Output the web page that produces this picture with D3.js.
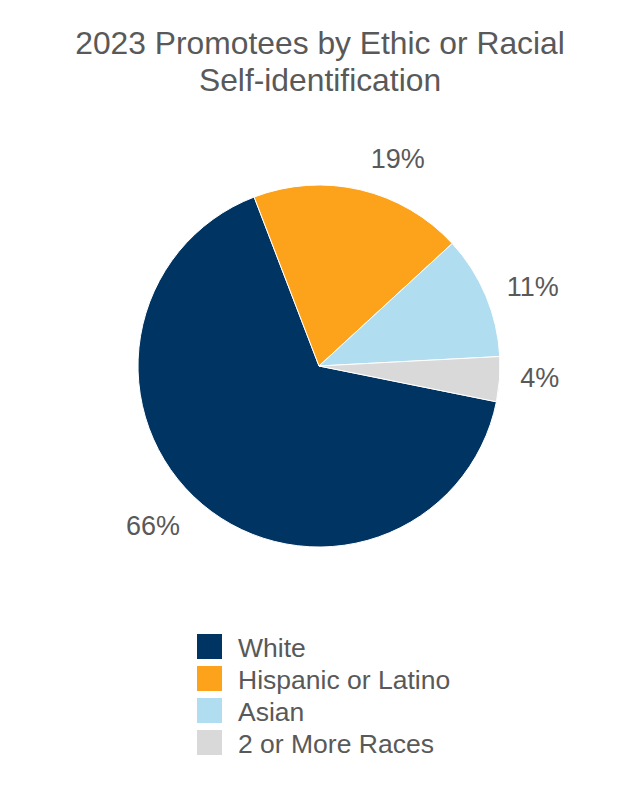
<!DOCTYPE html>
<html>
<head>
<meta charset="utf-8">
<script src="https://cdn.jsdelivr.net/npm/d3@7"></script>
<style>
  html, body { margin: 0; padding: 0; background: #fff; }
  svg text { font-family: "Liberation Sans", Arial, Helvetica, sans-serif; }
</style>
</head>
<body>
<svg id="chart" width="640" height="800"></svg>
<script>
// ---- data ----
const categories = ["White", "Hispanic or Latino", "Asian", "2 or More Races"];
const values = [66, 19, 11, 4];
const valueLabels = ["66%", "19%", "11%", "4%"];
const colors = ["#003462", "#FCA31B", "#B0DDF0", "#D9D9D9"];
const titleLines = ["2023 Promotees by Ethic or Racial", "Self-identification"];

// ---- layout ----
const W = 640, H = 800;
const cx = 319, cy = 366, R = 181;
const startDeg = 101.4;
const labelNudgeDeg = [6.0, 7.6, 2.4, -1.2];
const labelRadius = [R + 49, R + 41, R + 47, R + 40];
const FONT = '"Liberation Sans", Arial, Helvetica, sans-serif';

const svg = d3.select("#chart");
const textColor = "#595959";

// title
svg.append("g").selectAll("text")
  .data(titleLines)
  .join("text")
  .attr("x", W / 2)
  .attr("y", (d, i) => 54 + i * 37)
  .attr("text-anchor", "middle")
  .attr("font-family", FONT)
  .attr("font-size", 31.8)
  .attr("fill", textColor)
  .text(d => d);

const data = categories.map((c, i) => ({ cat: c, value: values[i], label: valueLabels[i], color: colors[i], i }));

const start = startDeg * Math.PI / 180;
const pie = d3.pie().sort(null).value(d => d.value)
  .startAngle(start).endAngle(start + 2 * Math.PI);
const arcs = pie(data);
const arc = d3.arc().innerRadius(0).outerRadius(R);

const g = svg.append("g").attr("transform", `translate(${cx},${cy})`);
g.selectAll("path")
  .data(arcs)
  .join("path")
  .attr("d", arc)
  .attr("fill", d => d.data.color)
  .attr("stroke", "#fff")
  .attr("stroke-width", 1);

// labels
g.selectAll("text.lbl")
  .data(arcs)
  .join("text")
  .attr("class", "lbl")
  .attr("transform", d => {
    const a = (d.startAngle + d.endAngle) / 2 + labelNudgeDeg[d.index] * Math.PI / 180;
    const r = labelRadius[d.index];
    return `translate(${r * Math.sin(a)},${-r * Math.cos(a)})`;
  })
  .attr("text-anchor", "middle")
  .attr("dy", "0.35em")
  .attr("font-family", FONT)
  .attr("font-size", 27)
  .attr("fill", textColor)
  .text(d => d.data.label);

// legend
const legend = svg.append("g").attr("transform", "translate(197,634)");
const rows = legend.selectAll("g")
  .data(data)
  .join("g")
  .attr("transform", (d, i) => `translate(0,${i * 32})`);
rows.append("rect")
  .attr("width", 25).attr("height", 25)
  .attr("fill", d => d.color);
rows.append("text")
  .attr("x", 41)
  .attr("y", 22.5)
  .attr("font-family", FONT)
  .attr("font-size", 26.5)
  .attr("fill", textColor)
  .text(d => d.cat);
</script>
</body>
</html>
